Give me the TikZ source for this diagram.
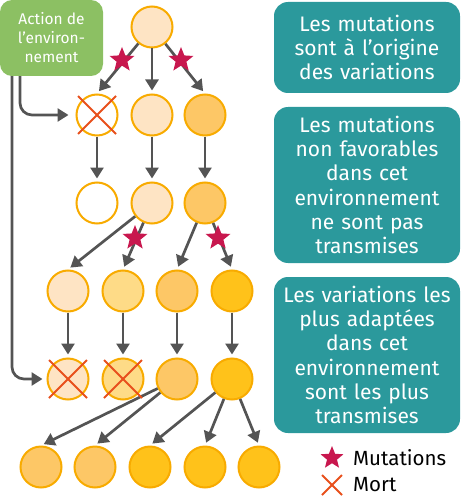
\documentclass[tikz,border=0pt]{standalone}
\usepackage{fontspec}
\setmainfont{Fira Sans}
\usetikzlibrary{shapes.geometric,arrows.meta,calc}
\definecolor{bord}{HTML}{F8AB00}
\definecolor{cpeach}{HTML}{FEE4C4}
\definecolor{cyel}{HTML}{FEDB87}
\definecolor{cmed}{HTML}{FDC766}
\definecolor{cstrong}{HTML}{FFC21A}
\definecolor{teal}{HTML}{2B999C}
\definecolor{envgreen}{HTML}{8CC063}
\definecolor{arrgray}{HTML}{545454}
\definecolor{starred}{HTML}{C8174E}
\definecolor{crossred}{HTML}{E8501C}
\begin{document}
\begin{tikzpicture}[x=1pt,y=-1pt,
  cir/.style={circle, draw=bord, line width=2pt, minimum size=41pt, inner sep=0pt},
  arr/.style={draw=arrgray, line width=2.7pt, -{Triangle[width=13pt,length=11pt]}, shorten >=3pt},
  mstar/.style={star, star points=5, star point ratio=2.3, fill=starred, minimum size=26pt, inner sep=0pt},
  crossst/.style={draw=crossred, line width=2pt},
  tbox/.style={fill=teal, rounded corners=14pt, text=white, align=center, text width=184pt, minimum width=186pt, font=\fontsize{21}{24.3}\selectfont, inner sep=0pt},
  lg/.style={anchor=west, font=\fontsize{20.5}{22}\selectfont, text=black, inner sep=0pt}
]
\useasboundingbox (0,0) rectangle (461,500);
% circles
\node[cir, fill=cpeach] (c11) at (152,27) {};
\node[cir, fill=white] (c21) at (97,115) {};
\node[cir, fill=cpeach] (c22) at (152,115) {};
\node[cir, fill=cmed] (c23) at (205,115) {};
\node[cir, fill=white] (c31) at (97,203) {};
\node[cir, fill=cpeach] (c32) at (152,203) {};
\node[cir, fill=cmed] (c33) at (205,203) {};
\node[cir, fill=cpeach] (c41) at (68,291) {};
\node[cir, fill=cyel] (c42) at (123,291) {};
\node[cir, fill=cmed] (c43) at (177,291) {};
\node[cir, fill=cstrong] (c44) at (232,291) {};
\node[cir, fill=cpeach] (c51) at (68,379) {};
\node[cir, fill=cyel] (c52) at (123,379) {};
\node[cir, fill=cmed] (c53) at (177,379) {};
\node[cir, fill=cstrong] (c54) at (232,379) {};
\node[cir, fill=cmed] (c61) at (41,467) {};
\node[cir, fill=cmed] (c62) at (95,467) {};
\node[cir, fill=cstrong] (c63) at (150,467) {};
\node[cir, fill=cstrong] (c64) at (205,467) {};
\node[cir, fill=cstrong] (c65) at (259,467) {};
% arrows
\draw[arr] (c11) -- (c21.north);
\draw[arr] (c11) -- (c22.north);
\draw[arr] (c11) -- (c23.north);
\draw[arr] (c21) -- (c31.north);
\draw[arr] (c22) -- (c32.north);
\draw[arr] (c23) -- (c33.north);
\draw[arr] (c32) -- (c41.north);
\draw[arr] (c32) -- (c42.north);
\draw[arr] (c33) -- (c43.north);
\draw[arr] (c33) -- (c44.north);
\draw[arr] (c41) -- (c51.north);
\draw[arr] (c42) -- (c52.north);
\draw[arr] (c43) -- (c53.north);
\draw[arr] (c44) -- (c54.north);
\draw[arr] (c53) -- (c61.north);
\draw[arr] (c53) -- (c62.north);
\draw[arr] (c54) -- (c63.north);
\draw[arr] (c54) -- (c64.north);
\draw[arr] (c54) -- (c65.north);
% environment box and its connectors
\coordinate (g1) at (20,70);
\coordinate (g2) at (12,70);
\draw[arr, rounded corners=12pt, shorten >=7pt] (g1) |- (c21.west);
\draw[arr, rounded corners=12pt, shorten >=4pt] (g2) |- (c51.west);
\node[fill=envgreen, rounded corners=12pt, minimum width=103pt, minimum height=76pt, text=white, align=center, font=\fontsize{15.5}{19}\selectfont, inner sep=0pt] (env) at (51.5,38) {Action de\\l’environ-\\nement};
% stars
\node[mstar] (s1) at (122,60) {};
\node[mstar] (s2) at (181,60) {};
\node[mstar] (s3) at (135,238) {};
\node[mstar] (s4) at (218,238) {};
% crosses
\foreach \c in {c21,c51,c52}{
  \draw[crossst] (\c.center) ++(-19,-19) -- ++(38,38);
  \draw[crossst] (\c.center) ++(19,-19) -- ++(-38,38);
}
% teal boxes
\node[tbox, minimum height=91pt] (b1) at (367,47.5) {Les mutations\\sont à l’origine\\des variations};
\node[tbox, minimum height=156pt] (b2) at (367,185) {Les mutations\\non favorables\\dans cet\\environnement\\ne sont pas\\transmises};
\node[tbox, minimum height=156pt] (b3) at (367,355) {Les variations les\\plus adaptées\\dans cet\\environnement\\sont les plus\\transmises};
% legend
\node[mstar, minimum size=24pt] (ls) at (332,458) {};
\node[lg] (lt1) at (353,458) {Mutations};
\coordinate (lx) at (332,485);
\draw[crossst] (lx) ++(-10,-10) -- ++(20,20);
\draw[crossst] (lx) ++(10,-10) -- ++(-20,20);
\node[lg] (lt2) at (353,485) {Mort};
\end{tikzpicture}
\end{document}
